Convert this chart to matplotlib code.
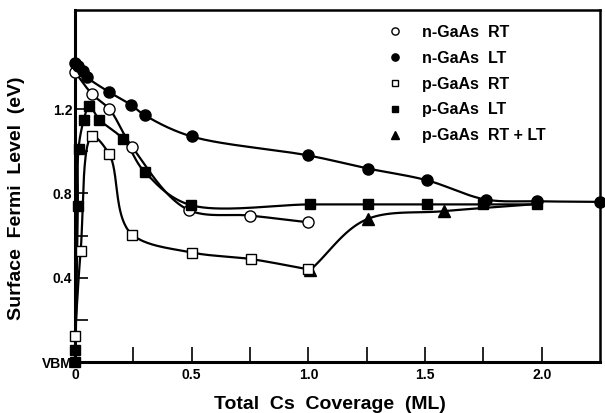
import numpy as np
import matplotlib
matplotlib.use("Agg")
import matplotlib.pyplot as plt

plt.rcParams['font.family'] = ['Liberation Sans', 'DejaVu Sans']
plt.rcParams['font.weight'] = 'bold'

# Cs coverage (ML) and surface Fermi level (eV, above VBM)
n_rt_x = [0.0, 0.074, 0.147, 0.245, 0.49, 0.75, 1.0]
n_rt_y = [1.375, 1.27, 1.20, 1.02, 0.72, 0.695, 0.663]

n_lt_x = [0.0, 0.014, 0.034, 0.053, 0.147, 0.24, 0.30, 0.50, 1.0, 1.256, 1.506, 1.76, 1.98, 2.25]
n_lt_y = [1.42, 1.406, 1.38, 1.35, 1.28, 1.22, 1.17, 1.07, 0.98, 0.918, 0.863, 0.771, 0.763, 0.76]

p_rt_x = [0.0, 0.024, 0.074, 0.147, 0.245, 0.50, 0.753, 1.0]
p_rt_y = [0.124, 0.525, 1.07, 0.985, 0.605, 0.52, 0.489, 0.44]

p_lt_x = [0.0, 0.002, 0.012, 0.015, 0.038, 0.061, 0.104, 0.207, 0.30, 0.495, 1.006, 1.256, 1.506, 1.75, 1.98]
p_lt_y = [0.0, 0.06, 0.74, 1.013, 1.15, 1.216, 1.15, 1.057, 0.90, 0.745, 0.748, 0.748, 0.748, 0.748, 0.748]

p_rtlt_x = [1.006, 1.256, 1.58, 1.98]
p_rtlt_y = [0.435, 0.68, 0.716, 0.75]

XMAX, YMAX = 2.25, 1.67


def smooth(x, y, n=40):
    # centripetal Catmull-Rom through the points, in axis-normalised units
    p = np.column_stack([np.asarray(x) / XMAX, np.asarray(y) / YMAX])
    p = np.vstack([2 * p[0] - p[1], p, 2 * p[-1] - p[-2]])
    out = []
    for i in range(1, len(p) - 2):
        P0, P1, P2, P3 = p[i - 1], p[i], p[i + 1], p[i + 2]
        t0 = 0.0
        t1 = t0 + np.linalg.norm(P1 - P0) ** 0.5 + 1e-9
        t2 = t1 + np.linalg.norm(P2 - P1) ** 0.5 + 1e-9
        t3 = t2 + np.linalg.norm(P3 - P2) ** 0.5 + 1e-9
        t = np.linspace(t1, t2, n)[:, None]
        A1 = (t1 - t) / (t1 - t0) * P0 + (t - t0) / (t1 - t0) * P1
        A2 = (t2 - t) / (t2 - t1) * P1 + (t - t1) / (t2 - t1) * P2
        A3 = (t3 - t) / (t3 - t2) * P2 + (t - t2) / (t3 - t2) * P3
        B1 = (t2 - t) / (t2 - t0) * A1 + (t - t0) / (t2 - t0) * A2
        B2 = (t3 - t) / (t3 - t1) * A2 + (t - t1) / (t3 - t1) * A3
        C = (t2 - t) / (t2 - t1) * B1 + (t - t1) / (t2 - t1) * B2
        out.append(C)
    c = np.vstack(out)
    return c[:, 0] * XMAX, c[:, 1] * YMAX


fig = plt.figure(figsize=(6.05, 4.13), dpi=100)
ax = fig.add_axes([0.124, 0.123, 0.868, 0.853])

# the last triangle is buried under the merged curves at 2 ML
series = [
    (n_rt_x, n_rt_y, 'o', 'white', 8, 'n-GaAs  RT', 4, None),
    (n_lt_x, n_lt_y, 'o', 'black', 8, 'n-GaAs  LT', 4, None),
    (p_rt_x, p_rt_y, 's', 'white', 7, 'p-GaAs  RT', 4, None),
    (p_lt_x, p_lt_y, 's', 'black', 7, 'p-GaAs  LT', 4, None),
    (p_rtlt_x, p_rtlt_y, '^', 'black', 9, 'p-GaAs  RT + LT', 3, slice(0, -1)),
]

for x, y, m, fc, ms, lab, z, every in series:
    sx, sy = smooth(x, y)
    ax.plot(sx, sy, color='black', lw=1.6, zorder=2)
    ax.plot(x, y, ls='none', marker=m, ms=ms, mfc=fc, mec='black', mew=1.0,
            markevery=every, clip_on=False, zorder=z, label=lab)

ax.set_xlim(0, XMAX)
ax.set_ylim(0, YMAX)

ax.set_xticks(np.arange(0, 2.01, 0.25))
ax.set_xticklabels(['0', '', '0.5', '', '1.0', '', '1.5', '', '2.0'])
ax.set_yticks(np.arange(0, 1.21, 0.2))
ax.set_yticklabels(['VBM', '', '0.4', '', '0.8', '', '1.2'])
ax.tick_params(axis='x', direction='in', length=11, width=1.2, labelsize=10, pad=4)
ax.tick_params(axis='y', direction='in', length=9, width=1.2, labelsize=10, pad=2)
for t in ax.get_xticklabels() + ax.get_yticklabels():
    t.set_fontweight('bold')

for side in ['left', 'bottom']:
    ax.spines[side].set_linewidth(2.2)
for side in ['top', 'right']:
    ax.spines[side].set_linewidth(1.8)

ax.set_xlabel('Total  Cs  Coverage  (ML)', fontsize=14, fontweight='bold')
ax.xaxis.set_label_coords(0.486, -0.095)
ax.set_ylabel('Surface  Fermi  Level  (eV)', fontsize=14, fontweight='bold')
ax.yaxis.set_label_coords(-0.095, 0.466)

leg = ax.legend(loc='upper left', bbox_to_anchor=(0.576, 0.985), frameon=False,
                fontsize=11.5, markerscale=0.65, handlelength=1.0, handletextpad=1.2,
                labelspacing=0.68, borderaxespad=0.2)
for t in leg.get_texts():
    t.set_fontweight('bold')

fig.savefig('out.png', dpi=100)
